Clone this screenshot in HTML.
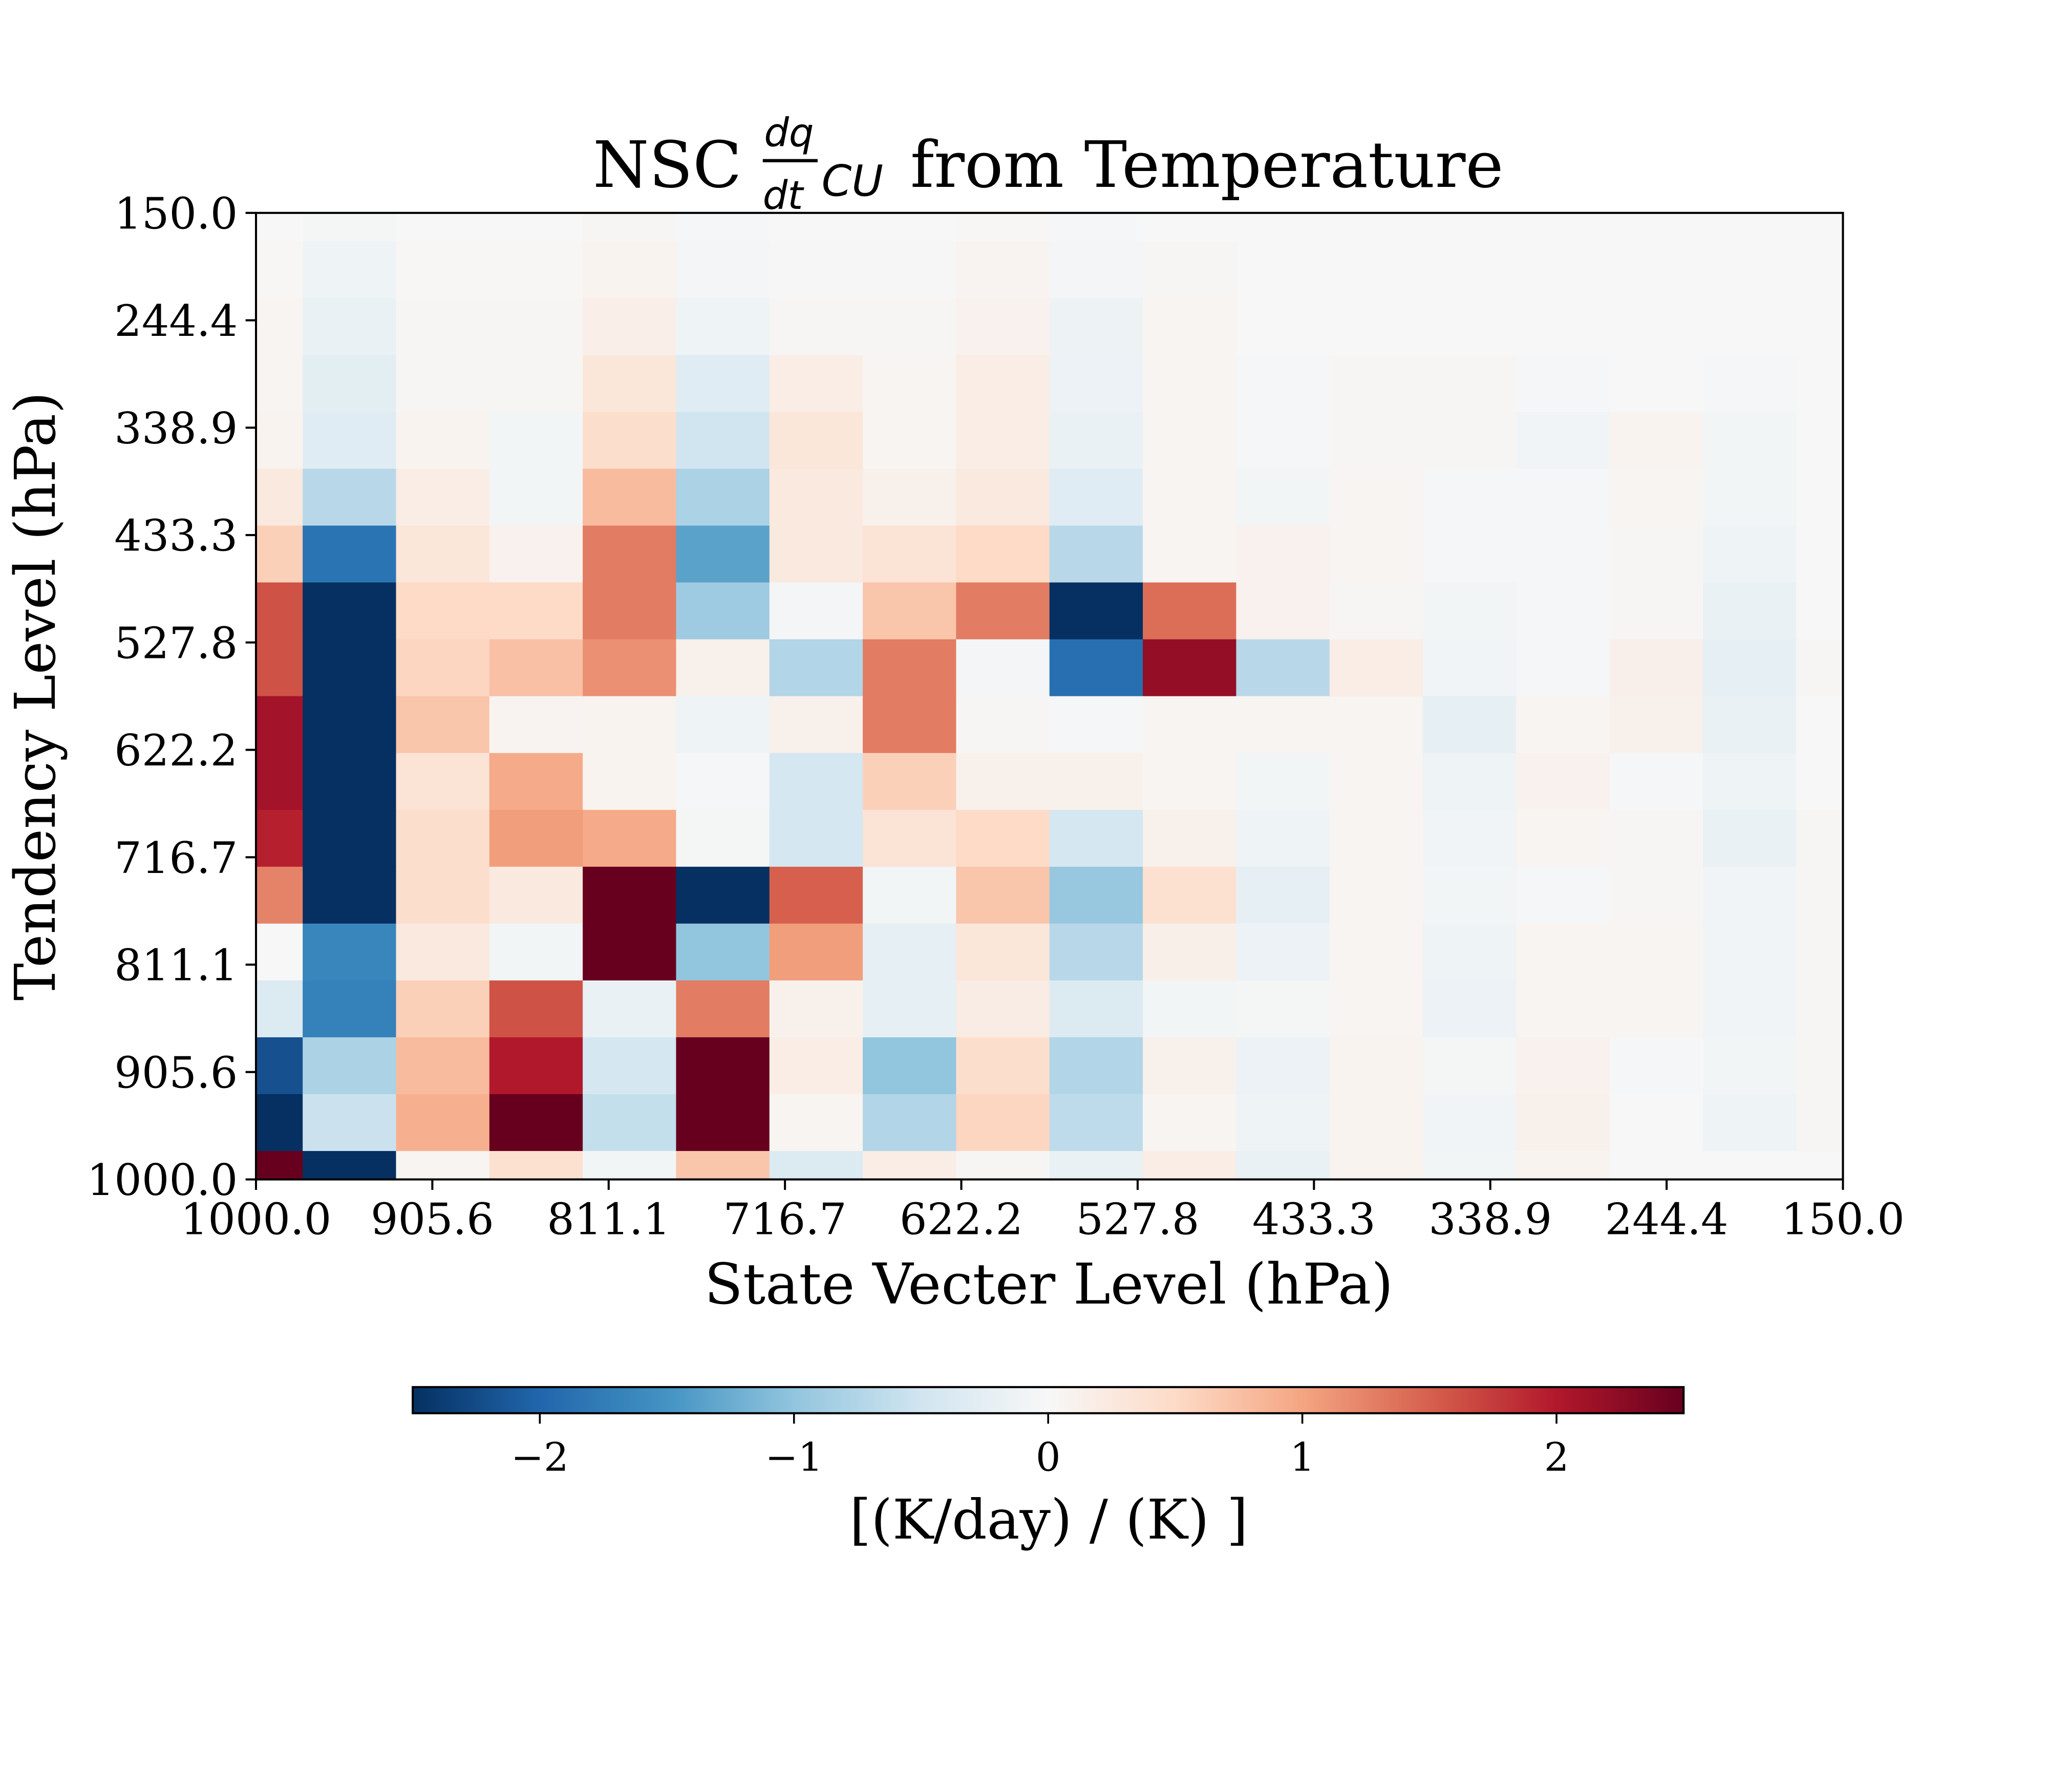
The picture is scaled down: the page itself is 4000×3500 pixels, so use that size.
<!DOCTYPE html>
<html><head><meta charset="utf-8"><style>
html,body{margin:0;padding:0;background:#fff}
svg{display:block}
text{font-family:"DejaVu Serif","Liberation Serif",serif;fill:#000}
.m{font-family:"DejaVu Sans",sans-serif;font-style:italic}
</style></head><body>
<svg id="chart" width="4000" height="3500" viewBox="0 0 1568 1372" xmlns="http://www.w3.org/2000/svg">
<defs>
<linearGradient id="cbgrad" x1="0" x2="1" y1="0" y2="0">
<stop offset="0" stop-color="#053061"/><stop offset="0.1" stop-color="#2166ac"/><stop offset="0.2" stop-color="#4393c3"/><stop offset="0.3" stop-color="#92c5de"/><stop offset="0.4" stop-color="#d1e5f0"/><stop offset="0.5" stop-color="#f7f7f7"/><stop offset="0.6" stop-color="#fddbc7"/><stop offset="0.7" stop-color="#f4a582"/><stop offset="0.8" stop-color="#d6604d"/><stop offset="0.9" stop-color="#b2182b"/><stop offset="1" stop-color="#67001f"/>
</linearGradient>
<clipPath id="plotclip"><rect x="196" y="163" width="1215" height="740"/></clipPath>
</defs>
<text x="454" y="143" font-size="49">NSC</text>
<text x="585" y="112" font-size="30" class="m">dq</text>
<line x1="584" y1="123" x2="626" y2="123" stroke="#000" stroke-width="2.5"/>
<text x="584" y="160" font-size="30" class="m">dt</text>
<text x="629" y="150" font-size="33" class="m">CU</text>
<text x="697" y="143" font-size="49">from Temperature</text>
<g id="cells" clip-path="url(#plotclip)"></g>
<rect x="196" y="163" width="1215" height="740" fill="none" stroke="#000" stroke-width="1.6"/>
<g id="xticks"></g>
<g id="yticks"></g>
<text x="803" y="998" font-size="43" text-anchor="middle">State Vecter Level (hPa)</text>
<text transform="translate(42,533) rotate(-90)" font-size="43" text-anchor="middle">Tendency Level (hPa)</text>
<rect x="316" y="1062" width="973" height="20" fill="url(#cbgrad)" stroke="#000" stroke-width="1.6"/>
<g id="cbticks"></g>
<text x="803" y="1178" font-size="42" text-anchor="middle">[(K/day) / (K) ]</text>
</svg>
<script>
const xTickLabels = ["1000.0","905.6","811.1","716.7","622.2","527.8","433.3","338.9","244.4","150.0"];
const yTickLabels = ["150.0","244.4","338.9","433.3","527.8","622.2","716.7","811.1","905.6","1000.0"];
const cbTicks = [-2,-1,0,1,2];
const vmin = -2.5, vmax = 2.5;
// rows: top (150 hPa) to bottom (1000 hPa); columns: left (1000 hPa) to right (150 hPa)
const values = [
[0,-0.04,0,0,0.03,-0.02,0,0,0.02,-0.02,0,0,0,0,0,0,0,0],
[0.02,-0.12,0.02,0.02,0.08,-0.05,0.01,0.01,0.07,-0.05,0.03,0,0,0,0,0,0,0],
[0.05,-0.18,0.04,0.04,0.16,-0.12,0.03,0.03,0.1,-0.13,0.06,0,0,0,0,0,0,0],
[0.06,-0.26,0.04,0.03,0.3,-0.3,0.18,0.06,0.18,-0.15,0.06,-0.02,0.03,0.03,-0.03,0,-0.03,0],
[0.08,-0.3,0.08,-0.06,0.45,-0.5,0.3,0.06,0.18,-0.18,0.06,-0.02,0.04,0.04,-0.08,0.08,-0.06,0],
[0.25,-0.7,0.18,-0.06,0.8,-0.8,0.25,0.12,0.25,-0.3,0.06,-0.06,0.06,-0.03,-0.03,0.06,-0.06,0],
[0.6,-1.85,0.3,0.1,1.3,-1.35,0.25,0.35,0.5,-0.7,0.06,0.1,0.06,-0.03,-0.03,0.04,-0.12,0],
[1.6,-2.5,0.5,0.5,1.3,-0.9,-0.05,0.7,1.3,-2.5,1.4,0.1,0.04,-0.06,-0.03,0.04,-0.17,0],
[1.6,-2.5,0.55,0.75,1.15,0.12,-0.75,1.3,-0.05,-1.9,2.2,-0.7,0.18,-0.08,-0.03,0.14,-0.22,0.04],
[2.1,-2.5,0.7,0.07,0.08,-0.12,0.12,1.3,0.03,-0.03,0.06,0.06,0.06,-0.22,0.06,0.12,-0.17,0],
[2.1,-2.5,0.35,0.95,0.08,-0.03,-0.45,0.6,0.12,0.12,0.06,-0.06,0.06,-0.12,0.1,-0.03,-0.12,0],
[1.95,-2.5,0.45,1.05,0.95,-0.04,-0.45,0.35,0.5,-0.45,0.12,-0.12,0.06,-0.08,0.06,0.03,-0.17,0.03],
[1.25,-2.5,0.45,0.25,2.5,-2.5,1.5,-0.06,0.7,-0.95,0.4,-0.22,0.06,-0.06,-0.03,0.04,-0.08,0.03],
[0,-1.65,0.25,-0.06,2.5,-1.0,1.05,-0.22,0.3,-0.7,0.15,-0.15,0.06,-0.12,0.06,0.06,-0.08,0.03],
[-0.35,-1.7,0.6,1.6,-0.18,1.3,0.12,-0.22,0.2,-0.35,-0.06,-0.04,0.06,-0.14,0.06,0.06,-0.08,0.03],
[-2.2,-0.8,0.8,2.0,-0.45,2.5,0.18,-1.0,0.45,-0.75,0.12,-0.14,0.08,-0.04,0.1,-0.03,-0.06,0.03],
[-2.5,-0.55,0.9,2.5,-0.6,2.5,0.06,-0.75,0.55,-0.65,0.06,-0.12,0.08,-0.08,0.12,0,-0.12,0.03],
[2.5,-2.5,0.06,0.4,-0.06,0.7,-0.35,0.18,0.04,-0.18,0.18,-0.18,0.08,-0.06,0.08,0,0,0]
];
const stops = ["#053061","#2166ac","#4393c3","#92c5de","#d1e5f0","#f7f7f7","#fddbc7","#f4a582","#d6604d","#b2182b","#67001f"];
function hex(h){return [1,3,5].map(i=>parseInt(h.substr(i,2),16));}
function cmap(v){
  let t=(v-vmin)/(vmax-vmin); t=Math.max(0,Math.min(1,t));
  const p=t*(stops.length-1); const i=Math.min(Math.floor(p),stops.length-2); const f=p-i;
  const a=hex(stops[i]), b=hex(stops[i+1]);
  return "rgb("+a.map((c,k)=>Math.round(c+(b[k]-c)*f)).join(",")+")";
}
const PX0=196, PX1=1411, PY0=163, PY1=903;
const nCols=values[0].length, nRows=values.length;
const xScale = j => PX0 + j*(PX1-PX0)/(nCols-1);
const yScale = i => PY0 + i*(PY1-PY0)/(nRows-1);
const NS="http://www.w3.org/2000/svg";
const cells=document.getElementById('cells');
values.forEach((row,i)=>row.forEach((v,j)=>{
  const r=document.createElementNS(NS,'rect');
  const x0=xScale(j-0.5), x1=xScale(j+0.5), y0=yScale(i-0.5), y1=yScale(i+0.5);
  r.setAttribute('x',x0); r.setAttribute('y',y0);
  r.setAttribute('width',x1-x0+0.4); r.setAttribute('height',y1-y0+0.4);
  r.setAttribute('fill',cmap(v));
  
  
  cells.appendChild(r);
}));
const xt=document.getElementById('xticks');
xTickLabels.forEach((lab,k)=>{
  const x=PX0+k*(PX1-PX0)/(xTickLabels.length-1);
  const l=document.createElementNS(NS,'line');
  l.setAttribute('x1',x);l.setAttribute('x2',x);l.setAttribute('y1',PY1);l.setAttribute('y2',PY1+8);
  l.setAttribute('stroke','#000');l.setAttribute('stroke-width','1.6');
  
  
  xt.appendChild(l);
  const t=document.createElementNS(NS,'text');
  t.setAttribute('x',x);t.setAttribute('y',PY1+42);t.setAttribute('font-size','33');t.setAttribute('text-anchor','middle');
  t.textContent=lab;
  
  
  xt.appendChild(t);
});
const yt=document.getElementById('yticks');
yTickLabels.forEach((lab,k)=>{
  const y=PY0+k*(PY1-PY0)/(yTickLabels.length-1);
  const l=document.createElementNS(NS,'line');
  l.setAttribute('x1',PX0-8);l.setAttribute('x2',PX0);l.setAttribute('y1',y);l.setAttribute('y2',y);
  l.setAttribute('stroke','#000');l.setAttribute('stroke-width','1.6');
  
  
  yt.appendChild(l);
  const t=document.createElementNS(NS,'text');
  t.setAttribute('x',PX0-14);t.setAttribute('y',y+12);t.setAttribute('font-size','33');t.setAttribute('text-anchor','end');
  t.textContent=lab;
  
  
  yt.appendChild(t);
});
const cb=document.getElementById('cbticks');
const cbScale = v => 316 + (v-vmin)/(vmax-vmin)*973;
cbTicks.forEach(v=>{
  const x=cbScale(v);
  const l=document.createElementNS(NS,'line');
  l.setAttribute('x1',x);l.setAttribute('x2',x);l.setAttribute('y1',1082);l.setAttribute('y2',1090);
  l.setAttribute('stroke','#000');l.setAttribute('stroke-width','1.4');
  
  
  cb.appendChild(l);
  const t=document.createElementNS(NS,'text');
  t.setAttribute('x',x);t.setAttribute('y',1126);t.setAttribute('font-size','30');t.setAttribute('text-anchor','middle');
  t.textContent=(v<0?'\u2212':'')+Math.abs(v);
  
  
  cb.appendChild(t);
});
</script>
</body></html>
